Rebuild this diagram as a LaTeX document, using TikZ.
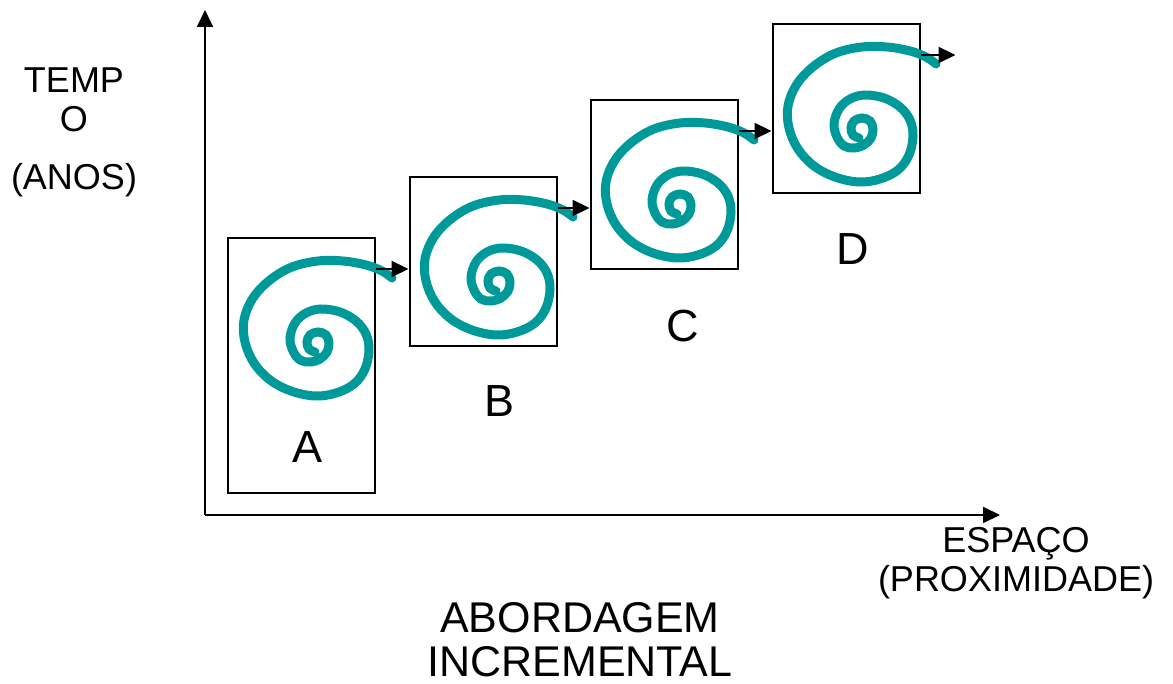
\documentclass[tikz,border=0pt]{standalone}
\usepackage{fontspec}
\setmainfont{Liberation Sans}
\usepackage{xcolor}
\usetikzlibrary{arrows.meta}

\definecolor{spiralteal}{RGB}{0,153,153}

\tikzset{
	stage/.style={draw, line width=2pt, inner sep=0pt,
		minimum width=147pt, minimum height=169pt},
	flow/.style={line width=2.2pt, -{Triangle[length=17pt,width=16pt]}},
	axis/.style={line width=2pt, -{Triangle[length=17pt,width=16pt]}},
	letter/.style={anchor=base, inner sep=0pt, font=\fontsize{45}{45}\selectfont},
	axislabel/.style={anchor=north, inner sep=0pt, align=center,
		font=\fontsize{36}{39}\selectfont},
	titlelabel/.style={anchor=north, inner sep=0pt, align=center,
		font=\fontsize{43}{44}\selectfont},
	vortex/.pic={
		\draw[spiralteal, line width=9pt, line cap=round]
		plot[smooth, tension=0.6] coordinates {
			(-3,10) (-9,7) (-11,0) (-8,-7) (0,-10) (8,-7) (11,1) (9,10)
			(2,17) (-8,20) (-18,18) (-25,9) (-28,-4) (-23,-19) (-12,-29)
			(3,-33) (22,-30) (38,-21) (48,-8) (51,8) (47,27) (36,42)
			(18,51) (-3,54) (-27,49) (-48,38) (-64,21) (-73,0) (-74,-22)
			(-65,-44) (-48,-62) (-26,-75) (0,-81) (25,-81) (48,-77)
			(64,-71) (74,-64)};
	}
}

\begin{document}
\begin{tikzpicture}[x=1pt, y=-1pt]
	\useasboundingbox (0,0) rectangle (1173,684);
	
	% axes
	\coordinate (origin) at (205,515);
	\coordinate (ytip) at (205,10);
	\coordinate (xtip) at (1000,515);
	\draw[axis] (origin) -- (ytip);
	\draw[axis] (origin) -- (xtip);
	
	% the four steps
	\node[stage, minimum height=255pt] (boxA) at (301.5,365.5) {};
	\node[stage] (boxB) at (483,261.5) {};
	\node[stage] (boxC) at (664,184.5) {};
	\node[stage] (boxD) at (846,108.5) {};
	
	\pic at (318,342) {vortex};
	\pic at (499,281) {vortex};
	\pic at (680,204) {vortex};
	\pic at (862,128) {vortex};
	
	\coordinate (outA) at ([yshift=-32pt]boxA.north east);
	\coordinate (outB) at ([yshift=-32pt]boxB.north east);
	\coordinate (outC) at ([yshift=-32pt]boxC.north east);
	\coordinate (outD) at ([yshift=-32pt]boxD.north east);
	\coordinate (endD) at ([xshift=35pt]outD);
	
	\draw[flow] (outA) -- (outA -| boxB.west);
	\draw[flow] (outB) -- (outB -| boxC.west);
	\draw[flow] (outC) -- (outC -| boxD.west);
	\draw[flow] (outD) -- (endD);
	
	\node[letter] (labA) at (308,463) {A};
	\node[letter] (labB) at (500,417) {B};
	\node[letter] (labC) at (683,342) {C};
	\node[letter] (labD) at (853,265) {D};
	
	% labels
	\node[axislabel] (timelabel) at (74,68) {TEMP\\O\\[19pt](ANOS)};
	\node[axislabel] (spacelabel) at (1016,527) {ESPAÇO\\(PROXIMIDADE)};
	\node[titlelabel] (title) at (580,602) {ABORDAGEM\\INCREMENTAL};
	
\end{tikzpicture}
\end{document}
